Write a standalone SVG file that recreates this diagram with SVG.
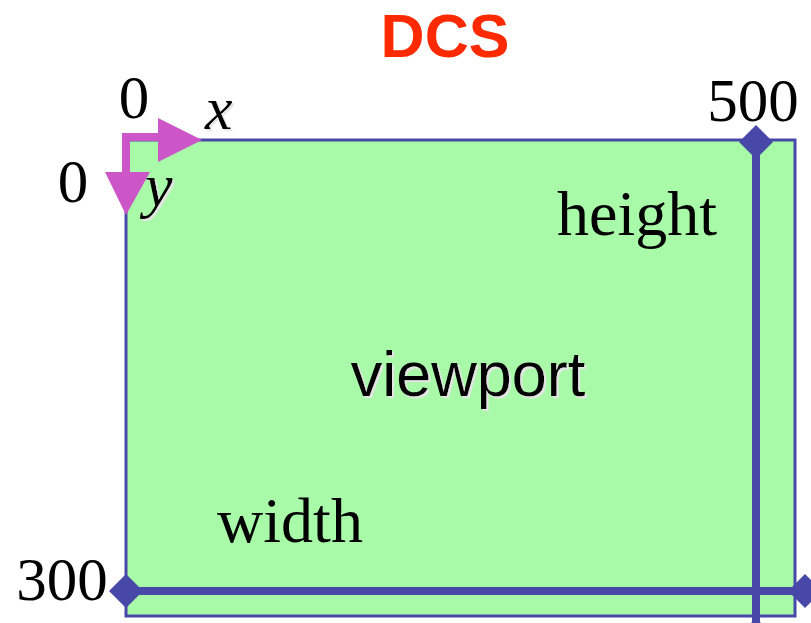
<svg xmlns="http://www.w3.org/2000/svg" width="811" height="623" viewBox="0 0 811 623">
  <style>
    .serif { font-family: "Liberation Serif", "Times New Roman", serif; font-size: 61px; fill: #000; }
    .word { font-size: 64px; }
    .ital { font-family: "Liberation Serif", "Times New Roman", serif; font-size: 62px; font-style: italic; fill: #000; }
    .sans { font-family: "Liberation Sans", Arial, sans-serif; }
    .edge { fill: none; stroke: #4848a8; stroke-width: 8; }
    .knob { fill: #4848a8; }
    .axis { fill: #cc55c8; }
  </style>
  <defs>
    <polygon id="diamond" points="0,-17 17,0 0,17 -17,0"/>
    <!-- soft grey drop shadow under labels -->
    <filter id="shadow" x="-10%" y="-10%" width="130%" height="130%">
      <feColorMatrix in="SourceAlpha" type="matrix" values="0 0 0 0 0.78  0 0 0 0 0.78  0 0 0 0 0.78  0 0 0 1 0" result="grey"/>
      <feOffset in="grey" dx="2" dy="2" result="moved"/>
      <feMerge>
        <feMergeNode in="moved"/>
        <feMergeNode in="SourceGraphic"/>
      </feMerge>
    </filter>
  </defs>

  <rect width="811" height="623" fill="#ffffff"/>

  <!-- title -->
  <text x="445" y="57" text-anchor="middle" class="sans" font-size="61" font-weight="bold" fill="#ff2a00">DCS</text>

  <!-- device viewport area -->
  <g id="viewport">
    <rect x="126" y="140" width="669" height="476" fill="#a8faa8" stroke="#4848a8" stroke-width="3"/>
    <text x="468" y="396" text-anchor="middle" class="sans" font-size="63" fill="#000" filter="url(#shadow)">viewport</text>
  </g>

  <!-- extent markers -->
  <g id="connectors">
    <line class="edge" x1="756" y1="142" x2="756" y2="623"/>
    <line class="edge" x1="126" y1="591" x2="811" y2="591"/>
    <use href="#diamond" class="knob" x="756" y="142"/>
    <use href="#diamond" class="knob" x="126" y="591"/>
    <use href="#diamond" class="knob" x="805" y="591"/>
    <use href="#diamond" class="knob" x="756" y="635"/>
  </g>

  <!-- origin axes -->
  <g id="axes">
    <rect class="axis" x="122" y="133" width="38" height="8"/>
    <polygon class="axis" points="158,118 202,140 158,162"/>
    <rect class="axis" x="122" y="133" width="8" height="40"/>
    <polygon class="axis" points="105,172 150,172 126,215"/>
    <text x="205" y="129" class="ital" filter="url(#shadow)">x</text>
    <text x="145" y="206" class="ital" font-size="66" filter="url(#shadow)">y</text>
  </g>

  <!-- coordinate labels -->
  <g id="labels">
    <text x="134" y="118" text-anchor="middle" class="serif">0</text>
    <text x="73" y="202" text-anchor="middle" class="serif">0</text>
    <text x="753" y="121" text-anchor="middle" class="serif">500</text>
    <text x="62" y="600" text-anchor="middle" class="serif">300</text>
    <text x="637" y="235" text-anchor="middle" class="serif word">height</text>
    <text x="290" y="542" text-anchor="middle" class="serif word">width</text>
  </g>
</svg>
